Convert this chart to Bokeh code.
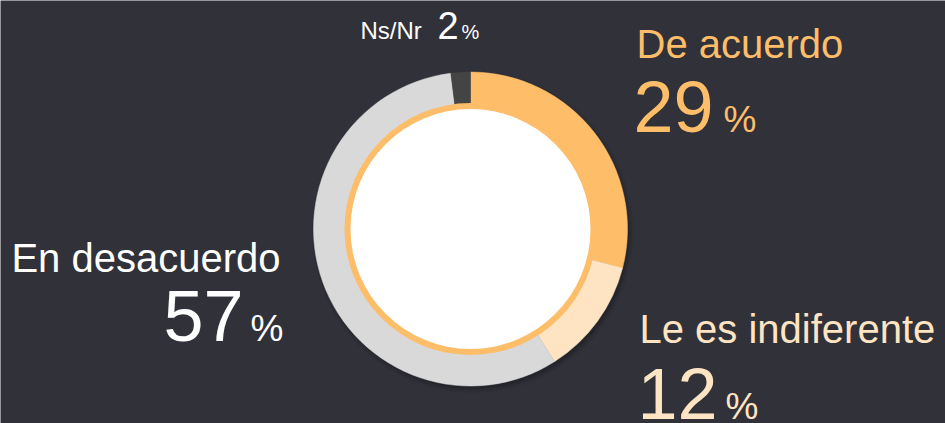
import math
from bokeh.plotting import figure
from bokeh.models import ColumnDataSource
from bokeh.core.properties import value
from bokeh.embed import file_html
from bokeh.resources import INLINE

# ---- data ----
categories = ["De acuerdo", "Le es indiferente", "En desacuerdo", "Ns/Nr"]
percentages = [29, 12, 57, 2]
colors = ["#FDBD69", "#FEE4C2", "#D9D9D9", "#444444"]
label_colors = ["#FDBD69", "#FEE4C2", "#FFFFFF", "#FFFFFF"]

BG = "#31313a"
FONT = "Liberation Sans"

W, H = 945, 423
p = figure(width=W, height=H, x_range=(0, W), y_range=(0, H),
           output_backend="svg", toolbar_location=None, min_border=0)
p.axis.visible = False
p.grid.visible = False
p.outline_line_color = None
p.background_fill_color = BG
p.border_fill_color = BG

cx, cy = 470, 194.5
r_out, r_in = 157, 125

# soft shadow
for dr, a in [(4, 0.05), (2, 0.08), (0, 0.12)]:
    p.circle(x=[cx + 2], y=[cy - 3], radius=r_out + dr, fill_color="black",
             fill_alpha=a, line_color=None)

total = sum(percentages)
starts, ends = [], []
acc = 0
for v in percentages:
    starts.append(math.pi / 2 - 2 * math.pi * acc / total)
    acc += v
    ends.append(math.pi / 2 - 2 * math.pi * acc / total)

src = ColumnDataSource(dict(start=starts, end=ends, color=colors))
p.annular_wedge(x=cx, y=cy, inner_radius=r_in, outer_radius=r_out,
                start_angle="start", end_angle="end", direction="clock",
                fill_color="color", line_color="color", line_width=0.5, source=src)

# inner ring + white center
p.circle(x=[cx], y=[cy], radius=126, fill_color="#FDBD69", line_color=None)
p.circle(x=[cx], y=[cy], radius=120, fill_color="#FFFFFF", line_color=None)


def put(x, screen_baseline, txt, size, color, align="left"):
    # convert a screen baseline position to data y (with baseline compensation)
    y = H - screen_baseline + 0.37 * size
    p.text(x=[x], y=[y], text=[txt], text_color=color,
           text_font=value(FONT), text_font_size=f"{size}px",
           text_align=align, text_baseline="alphabetic")


# layout: (name_x, name_base, name_size, align, num_x, num_base, num_size, pct_x, pct_size)
layout = [
    (636, 58, 40, "left", 633, 133, 72, 723, 37),
    (639, 343, 40, "left", 637, 420, 72, 725, 37),
    (280, 272, 40, "right", 163, 342, 72, 250, 37),
]
for i, (nx, nb, ns, al, ux, ub, us, px, ps) in enumerate(layout):
    c = label_colors[i]
    put(nx, nb, categories[i], ns, c, al)
    put(ux, ub, str(percentages[i]), us, c)
    put(px, ub, "%", ps, c)

# Ns/Nr label (single line)
put(360, 39, categories[3], 24, label_colors[3])
put(437, 39, str(percentages[3]), 38, label_colors[3])
put(461, 39, "%", 20, label_colors[3])

open("out.html", "w").write(file_html(p, INLINE))
